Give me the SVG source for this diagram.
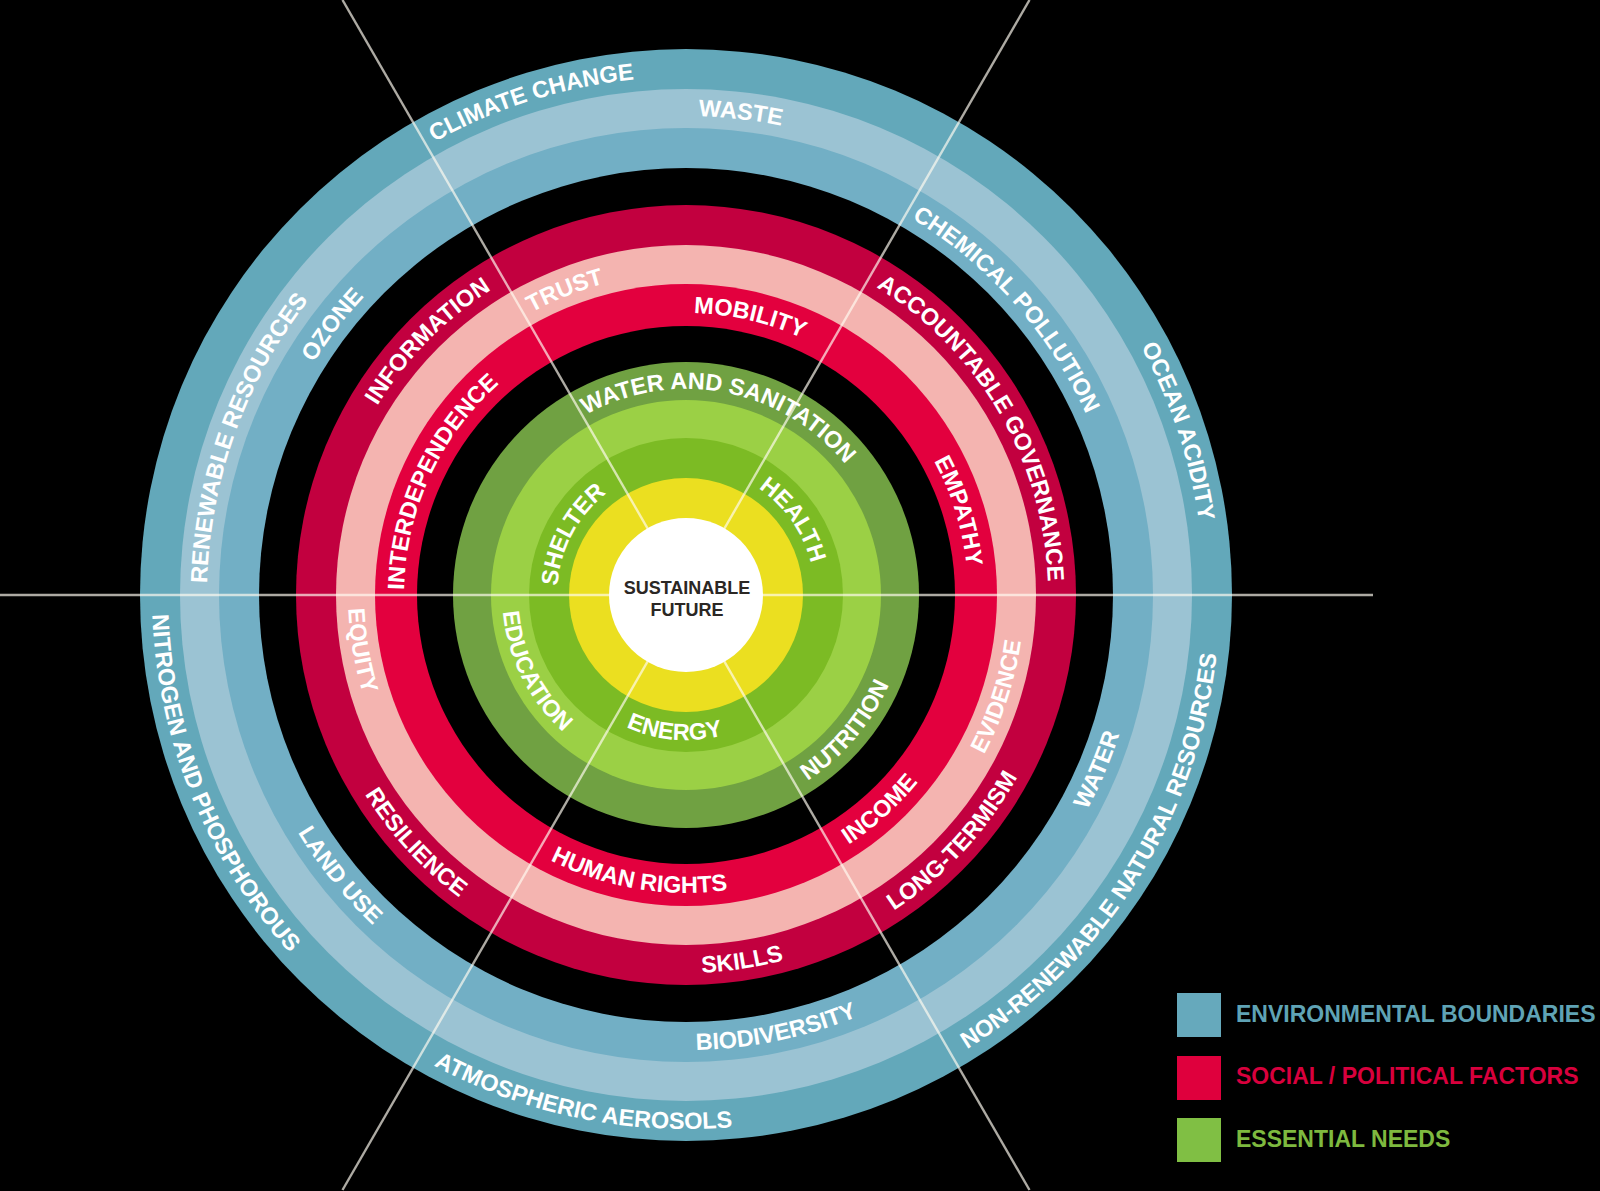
<svg xmlns="http://www.w3.org/2000/svg" width="1600" height="1191" viewBox="0 0 1600 1191">
<style>
.lbl{font-family:'Liberation Sans',Arial,sans-serif;font-weight:bold;font-size:23.5px;fill:#ffffff;}
.leg{font-family:'Liberation Sans',Arial,sans-serif;font-weight:bold;font-size:23px;}
.ctr{font-family:'Liberation Sans',Arial,sans-serif;font-weight:bold;font-size:18px;fill:#2b2724;text-anchor:middle;}
.div{stroke:#fffaf0;stroke-opacity:0.68;stroke-width:2.4;}
</style>
<defs>
<path id="cw518" d="M199.2,417.8 A518,518 0 0 1 1172.8,417.8"/>
<path id="cw479" d="M235.9,431.2 A479,479 0 0 1 1136.1,431.2"/>
<path id="cw439" d="M273.5,444.9 A439,439 0 0 1 1098.5,444.9"/>
<path id="cw362" d="M345.8,471.2 A362,362 0 0 1 1026.2,471.2"/>
<path id="cw322" d="M383.4,484.9 A322,322 0 0 1 988.6,484.9"/>
<path id="cw282" d="M421,498.6 A282,282 0 0 1 951,498.6"/>
<path id="cw206" d="M492.4,524.5 A206,206 0 0 1 879.6,524.5"/>
<path id="cw129" d="M564.8,550.9 A129,129 0 0 1 807.2,550.9"/>
<path id="ccw534" d="M184.2,777.6 A534,534 0 0 0 1187.8,777.6"/>
<path id="ccw455" d="M258.4,750.6 A455,455 0 0 0 1113.6,750.6"/>
<path id="ccw378" d="M330.8,724.3 A378,378 0 0 0 1041.2,724.3"/>
<path id="ccw338" d="M368.4,710.6 A338,338 0 0 0 1003.6,710.6"/>
<path id="ccw298" d="M406,696.9 A298,298 0 0 0 966,696.9"/>
<path id="ccw222" d="M477.4,670.9 A222,222 0 0 0 894.6,670.9"/>
<path id="ccw184" d="M513.1,657.9 A184,184 0 0 0 858.9,657.9"/>
<path id="ccw145" d="M549.7,644.6 A145,145 0 0 0 822.3,644.6"/>
</defs>
<rect x="0" y="0" width="1600" height="1191" fill="#000000"/>
<g id="rings">
<circle cx="686" cy="595" r="546" fill="#63a8ba"/>
<circle cx="686" cy="595" r="506" fill="#9bc3d3"/>
<circle cx="686" cy="595" r="467" fill="#72afc5"/>
<circle cx="686" cy="595" r="427" fill="#000000"/>
<circle cx="686" cy="595" r="390" fill="#c2003f"/>
<circle cx="686" cy="595" r="350" fill="#f4b4b0"/>
<circle cx="686" cy="595" r="311" fill="#e3003e"/>
<circle cx="686" cy="595" r="269" fill="#000000"/>
<circle cx="686" cy="595" r="233" fill="#70a142"/>
<circle cx="686" cy="595" r="195" fill="#9bd045"/>
<circle cx="686" cy="595" r="157" fill="#7cbb24"/>
<circle cx="686" cy="595" r="117" fill="#ebdf20"/>
</g>
<g id="connectors">
<line class="div" x1="0" y1="595" x2="1373" y2="595"/>
<line class="div" x1="342.5" y1="0" x2="1029.5" y2="1190"/>
<line class="div" x1="1029.5" y1="0" x2="342.5" y2="1190"/>
</g>
<g id="center">
<circle cx="686" cy="595" r="77" fill="#ffffff"/>
<text class="ctr" x="687" y="594">SUSTAINABLE</text>
<text class="ctr" x="687" y="616">FUTURE</text>
</g>
<g id="environment-labels">
<text class="lbl" transform="rotate(-17.4 686 595)"><textPath href="#cw518" startOffset="50%" text-anchor="middle">CLIMATE CHANGE</textPath></text>
<text class="lbl" transform="rotate(6.5 686 595)"><textPath href="#cw479" startOffset="50%" text-anchor="middle">WASTE</textPath></text>
<text class="lbl" transform="rotate(48.3 686 595)"><textPath href="#cw439" startOffset="50%" text-anchor="middle">CHEMICAL POLLUTION</textPath></text>
<text class="lbl" transform="rotate(71.6 686 595)"><textPath href="#cw518" startOffset="50%" text-anchor="middle">OCEAN ACIDITY</textPath></text>
<text class="lbl" transform="rotate(-70.3 686 595)"><textPath href="#cw479" startOffset="50%" text-anchor="middle">RENEWABLE RESOURCES</textPath></text>
<text class="lbl" transform="rotate(-52.6 686 595)"><textPath href="#cw439" startOffset="50%" text-anchor="middle">OZONE</textPath></text>
<text class="lbl" transform="rotate(-57.7 686 595)"><textPath href="#ccw534" startOffset="50%" text-anchor="middle">NON-RENEWABLE NATURAL RESOURCES</textPath></text>
<text class="lbl" transform="rotate(-67 686 595)"><textPath href="#ccw455" startOffset="50%" text-anchor="middle">WATER</textPath></text>
<text class="lbl" transform="rotate(-11.7 686 595)"><textPath href="#ccw455" startOffset="50%" text-anchor="middle">BIODIVERSITY</textPath></text>
<text class="lbl" transform="rotate(11.6 686 595)"><textPath href="#ccw534" startOffset="50%" text-anchor="middle">ATMOSPHERIC AEROSOLS</textPath></text>
<text class="lbl" transform="rotate(51 686 595)"><textPath href="#ccw455" startOffset="50%" text-anchor="middle">LAND USE</textPath></text>
<text class="lbl" transform="rotate(67.9 686 595)"><textPath href="#ccw534" startOffset="50%" text-anchor="middle">NITROGEN AND PHOSPHOROUS</textPath></text>
</g>
<g id="social-labels">
<text class="lbl" transform="rotate(-21.7 686 595)"><textPath href="#cw322" startOffset="50%" text-anchor="middle">TRUST</textPath></text>
<text class="lbl" transform="rotate(13 686 595)"><textPath href="#cw282" startOffset="50%" text-anchor="middle">MOBILITY</textPath></text>
<text class="lbl" transform="rotate(59.8 686 595)"><textPath href="#cw362" startOffset="50%" text-anchor="middle">ACCOUNTABLE GOVERNANCE</textPath></text>
<text class="lbl" transform="rotate(72.9 686 595)"><textPath href="#cw282" startOffset="50%" text-anchor="middle">EMPATHY</textPath></text>
<text class="lbl" transform="rotate(-65.2 686 595)"><textPath href="#cw282" startOffset="50%" text-anchor="middle">INTERDEPENDENCE</textPath></text>
<text class="lbl" transform="rotate(-45.5 686 595)"><textPath href="#cw362" startOffset="50%" text-anchor="middle">INFORMATION</textPath></text>
<text class="lbl" transform="rotate(-72 686 595)"><textPath href="#ccw338" startOffset="50%" text-anchor="middle">EVIDENCE</textPath></text>
<text class="lbl" transform="rotate(-47.3 686 595)"><textPath href="#ccw378" startOffset="50%" text-anchor="middle">LONG-TERMISM</textPath></text>
<text class="lbl" transform="rotate(-42.1 686 595)"><textPath href="#ccw298" startOffset="50%" text-anchor="middle">INCOME</textPath></text>
<text class="lbl" transform="rotate(-8.7 686 595)"><textPath href="#ccw378" startOffset="50%" text-anchor="middle">SKILLS</textPath></text>
<text class="lbl" transform="rotate(9.5 686 595)"><textPath href="#ccw298" startOffset="50%" text-anchor="middle">HUMAN RIGHTS</textPath></text>
<text class="lbl" transform="rotate(47.5 686 595)"><textPath href="#ccw378" startOffset="50%" text-anchor="middle">RESILIENCE</textPath></text>
<text class="lbl" transform="rotate(80.3 686 595)"><textPath href="#ccw338" startOffset="50%" text-anchor="middle">EQUITY</textPath></text>
</g>
<g id="needs-labels">
<text class="lbl" transform="rotate(10.8 686 595)"><textPath href="#cw206" startOffset="50%" text-anchor="middle">WATER AND SANITATION</textPath></text>
<text class="lbl" transform="rotate(-62 686 595)"><textPath href="#cw129" startOffset="50%" text-anchor="middle">SHELTER</textPath></text>
<text class="lbl" transform="rotate(55 686 595)"><textPath href="#cw129" startOffset="50%" text-anchor="middle">HEALTH</textPath></text>
<text class="lbl" transform="rotate(63.3 686 595)"><textPath href="#ccw184" startOffset="50%" text-anchor="middle">EDUCATION</textPath></text>
<text class="lbl" transform="rotate(4.8 686 595)"><textPath href="#ccw145" startOffset="50%" text-anchor="middle">ENERGY</textPath></text>
<text class="lbl" transform="rotate(-49.7 686 595)"><textPath href="#ccw222" startOffset="50%" text-anchor="middle">NUTRITION</textPath></text>
</g>
<g id="legend">
<g id="legend-environment">
<rect x="1177" y="993" width="44" height="44" fill="#66a9bc"/>
<text class="leg" x="1236" y="1022" fill="#5fa3b5">ENVIRONMENTAL BOUNDARIES</text>
</g>
<g id="legend-social">
<rect x="1177" y="1056" width="44" height="44" fill="#df003d"/>
<text class="leg" x="1236" y="1084" fill="#d8003d">SOCIAL / POLITICAL FACTORS</text>
</g>
<g id="legend-needs">
<rect x="1177" y="1118" width="44" height="44" fill="#80bf44"/>
<text class="leg" x="1236" y="1147" fill="#7eb93f">ESSENTIAL NEEDS</text>
</g>
</g>
</svg>
